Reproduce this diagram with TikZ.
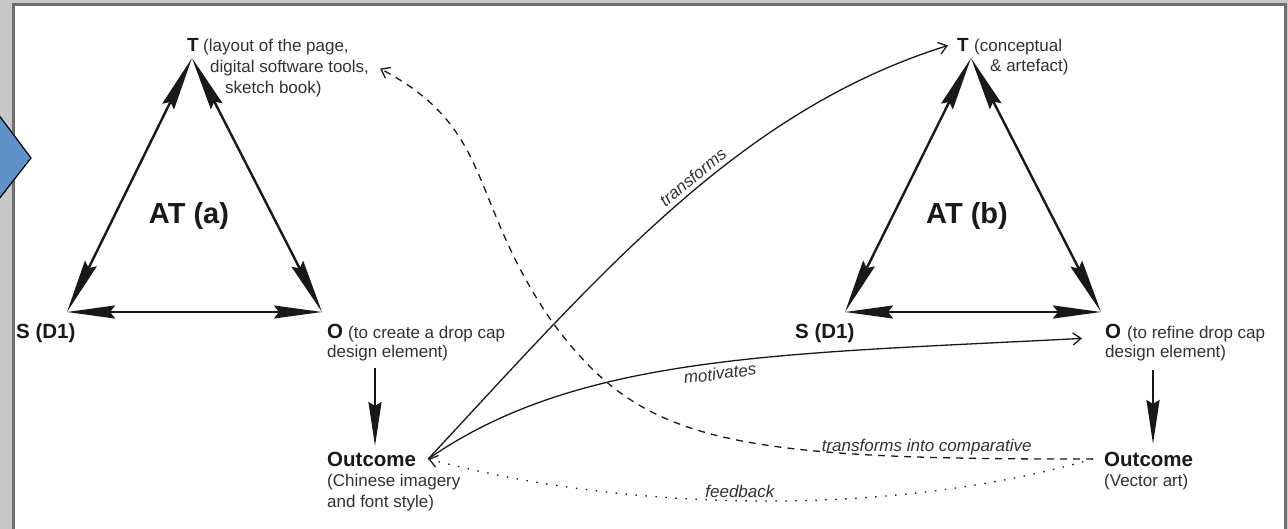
\documentclass[tikz,border=0pt]{standalone}
\usepackage{fontspec}
\setmainfont{Liberation Sans}
\usetikzlibrary{arrows.meta}
\definecolor{framegray}{RGB}{200,200,200}
\definecolor{framedark}{RGB}{110,110,110}
\definecolor{diamblue}{RGB}{95,145,200}
\definecolor{ink}{RGB}{25,25,25}
\definecolor{softink}{RGB}{50,50,50}
\begin{document}
\begin{tikzpicture}[x=1pt,y=-1pt,
  big/.style={font=\fontsize{20.5}{24}\selectfont\bfseries, text=ink, inner sep=0pt},
  tee/.style={font=\fontsize{19}{22}\selectfont\bfseries, text=ink, inner sep=0pt},
  small/.style={font=\fontsize{17}{20}\selectfont, text=softink, inner sep=0pt},
  attitle/.style={font=\fontsize{29}{32}\selectfont\bfseries, text=ink, inner sep=0pt},
  lbl/.style={font=\fontsize{17}{20}\selectfont\itshape, text=softink, inner sep=0pt},
  triedge/.style={line width=2.4pt, draw=ink, {Stealth[length=54pt,width=13pt,inset=5pt]}-{Stealth[length=54pt,width=13pt,inset=5pt]}},
  baseedge/.style={line width=2.4pt, draw=ink, {Stealth[length=48pt,width=13pt,inset=5pt]}-{Stealth[length=48pt,width=13pt,inset=5pt]}},
  downarrow/.style={line width=2.4pt, draw=ink, -{Stealth[length=44pt,width=13pt,inset=4pt]}},
  thinarrow/.style={line width=1.3pt, draw=ink, -{Straight Barb[length=8pt,width=12pt]}},
  dashline/.style={thinarrow, dash pattern=on 7pt off 6pt},
  dotline/.style={thinarrow, dash pattern=on 1.5pt off 8.5pt},
]
% background and frame
\fill[framegray] (0,0) rectangle (1288,529);
\path[use as bounding box] (0,0) rectangle (1288,529);
\draw[framedark, line width=3pt, fill=white] (13.5,4.5) rectangle (1285.5,545);
\filldraw[fill=diamblue, draw=black, line width=1.2pt] (-8,106) -- (31,158) -- (-8,208);

% ---------- AT (a) ----------
\coordinate (Ta) at (192,58);
\coordinate (Sa) at (67,312);
\coordinate (Oa) at (322,312);
\draw[triedge] (Sa) -- (Ta);
\draw[triedge] (Ta) -- (Oa);
\draw[baseedge] (Sa) -- (Oa);
\node[attitle] (ATa) at (189,216) {AT (a)};

\node[tee, anchor=base] (Tla) at (193,52) {T};
\node[small, anchor=base west] (Tla1) at (203,52) {(layout of the page,};
\node[small, anchor=base west] (Tla2) at (210,73) {digital software tools,};
\node[small, anchor=base west] (Tla3) at (225,94) {sketch book)};

\node[big, anchor=base west] (Sla) at (16,338) {S (D1)};
\node[big, anchor=base west] (Ola) at (327,338) {O};
\node[small, anchor=base west] (Ola1) at (348,338) {(to create a drop cap};
\node[small, anchor=base west] (Ola2) at (327,358) {design element)};

\coordinate (Aa1) at (375,368);
\coordinate (Aa2) at (375,446);
\draw[downarrow] (Aa1) -- (Aa2);

\node[big, anchor=base west] (Outa) at (327,466) {Outcome};
\node[small, anchor=base west] (Outa1) at (327,486) {(Chinese imagery};
\node[small, anchor=base west] (Outa2) at (327,507) {and font style)};

% ---------- AT (b) ----------
\coordinate (Tb) at (971,58);
\coordinate (Sb) at (845,312);
\coordinate (Ob) at (1101,312);
\draw[triedge] (Sb) -- (Tb);
\draw[triedge] (Tb) -- (Ob);
\draw[baseedge] (Sb) -- (Ob);
\node[attitle] (ATb) at (967,216) {AT (b)};

\node[tee, anchor=base] (Tlb) at (963,52) {T};
\node[small, anchor=base west] (Tlb1) at (974,52) {(conceptual};
\node[small, anchor=base west] (Tlb2) at (990,72) {\& artefact)};

\node[big, anchor=base west] (Slb) at (795,338) {S (D1)};
\node[big, anchor=base west] (Olb) at (1105,338) {O};
\node[small, anchor=base west] (Olb1) at (1127,338) {(to refine drop cap};
\node[small, anchor=base west] (Olb2) at (1105,358) {design element)};

\coordinate (Ab1) at (1153,370);
\coordinate (Ab2) at (1153,444);
\draw[downarrow] (Ab1) -- (Ab2);

\node[big, anchor=base west] (Outb) at (1104,466) {Outcome};
\node[small, anchor=base west] (Outb1) at (1104,486) {(Vector art)};

% ---------- connectors ----------
\draw[thinarrow] ([xshift=12pt]Outa.east) .. controls (602,272) and (739,111) .. ([xshift=-9pt]Tlb.west)
  node[lbl, pos=0.55, sloped, above=4pt] (lt) {transforms};
\draw[thinarrow] ([xshift=12pt]Outa.east) .. controls (579,354) and (782,354) .. ([xshift=-23pt]Olb.south west)
  node[lbl, pos=0.53, sloped, below=4pt] (lm) {motivates};
\draw[dashline] ([xshift=-11pt]Outb.west) .. controls (720,460) and (640,440) .. (553,323)
  node[lbl, pos=0.17, above=2pt] (lc) {transforms into comparative}
  .. controls (467,200) and (496,130) .. ([xshift=11pt]Tla2.east);
\draw[dotline] ([xshift=-11pt]Outb.west) .. controls (900,515) and (640,515) .. ([xshift=12pt]Outa.east)
  node[lbl, pos=0.54, above=2pt] (lf) {feedback};
\end{tikzpicture}
\end{document}
